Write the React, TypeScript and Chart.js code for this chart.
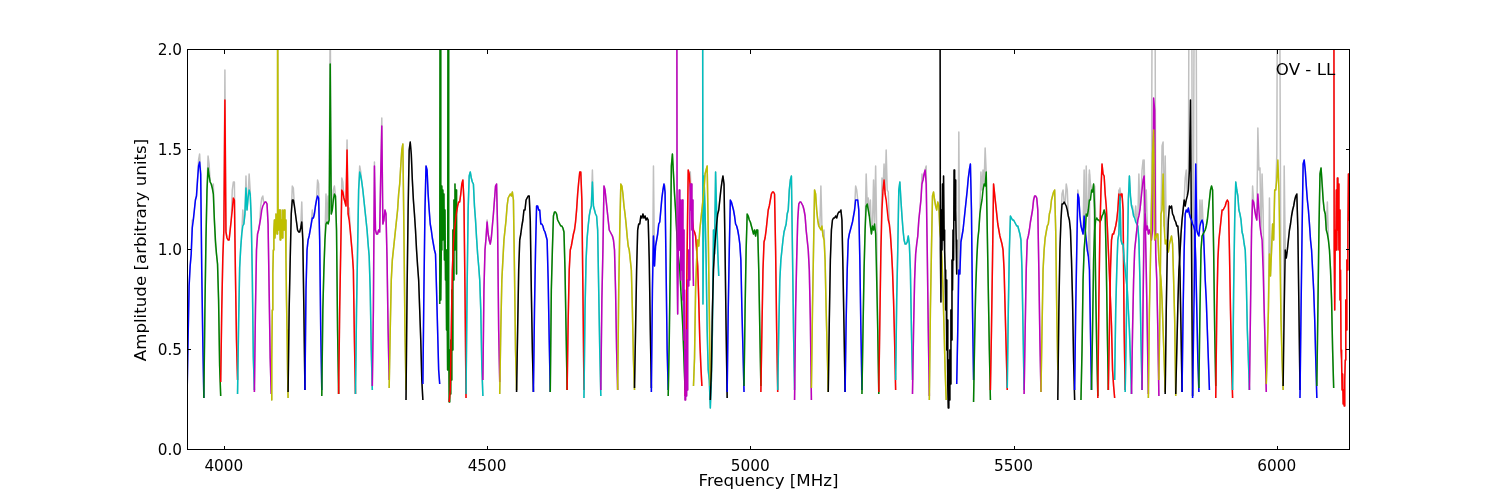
import { useEffect, useRef } from "react"
import { Chart, registerables } from "chart.js"

Chart.register(...registerables)

const FONT = "'DejaVu Sans'"
const SUBBAND_MHZ = 32

const colorCycle = ["#0000ff", "#008000", "#ff0000", "#00bfbf", "#bf00bf", "#bfbf00", "#000000"]
const rawColor = "#c0c0c0"
const xTicks = [4000, 4500, 5000, 5500, 6000]
const yTicks = [0, 0.5, 1, 1.5, 2]

// first frequency of each baseband, they overlap a bit
const bandStarts = [3930, 4428, 4860, 5360, 5628]

// one row per subband; noisy subbands have twice the channels
const band1 = [
  [0.25, 0.55, 0.82, 0.92, 0.98, 1.11, 1.15, 1.2, 1.25, 1.27, 1.35, 1.42, 1.44, 1.38, 0.9, 0.55, 0.26],
  [0.26, 0.7, 1.05, 1.3, 1.41, 1.37, 1.34, 1.33, 1.31, 1.28, 1.15, 1.05, 0.98, 0.93, 0.75, 0.42, 0.27],
  [0.34, 0.7, 0.96, 1.1, 1.75, 1.09, 1.06, 1.05, 1.05, 1.1, 1.15, 1.2, 1.26, 1.25, 0.88, 0.55, 0.35],
  [0.28, 0.63, 0.91, 1.01, 1.08, 1.12, 1.13, 1.18, 1.31, 1.2, 1.26, 1.3, 1.28, 1.16, 0.88, 0.46, 0.3],
  [0.29, 0.7, 1.0, 1.08, 1.1, 1.13, 1.16, 1.2, 1.22, 1.23, 1.24, 1.24, 1.23, 1.13, 0.8, 0.46, 0.28],
  [0.25, 0.45, 0.7, 0.88, 1.0, 1.1, 1.15, 1.06, 1.1, 1.18, 1.15, 1.08, 3.0, 1.18, 1.1, 1.2, 1.18, 1.05, 1.2, 1.08, 1.15, 1.06, 1.2, 1.1, 1.14, 1.2, 1.1, 1.15, 0.95, 0.75, 0.6, 0.4, 0.26],
  [0.29, 0.7, 0.95, 1.18, 1.25, 1.25, 1.22, 1.18, 1.14, 1.1, 1.09, 1.09, 1.11, 1.14, 1.05, 0.7, 0.3],
  [0.3, 0.8, 1.0, 1.05, 1.07, 1.1, 1.13, 1.16, 1.16, 1.18, 1.22, 1.25, 1.27, 1.26, 1.05, 0.6, 0.3],
  [0.27, 0.7, 0.9, 1.05, 1.13, 1.14, 1.13, 1.15, 1.93, 1.18, 1.2, 1.25, 1.28, 1.27, 1.1, 0.6, 0.28],
  [0.28, 0.7, 1.0, 1.3, 1.29, 1.26, 1.24, 1.22, 1.5, 1.18, 1.15, 1.1, 1.04, 0.98, 0.9, 0.55, 0.28],
  [0.28, 0.7, 1.0, 1.3, 1.39, 1.37, 1.34, 1.3, 1.25, 1.2, 1.15, 1.1, 1.03, 0.97, 0.8, 0.5, 0.3],
  [0.32, 0.7, 1.42, 1.1, 1.08, 1.08, 1.1, 1.09, 1.38, 1.62, 1.13, 1.15, 1.2, 1.18, 0.95, 0.6, 0.35],
  [0.31, 0.6, 0.85, 0.95, 1.0, 1.05, 1.1, 1.15, 1.2, 1.28, 1.33, 1.42, 1.5, 1.53, 1.1, 0.6, 0.3],
  [0.25, 0.8, 1.2, 1.5, 1.54, 1.48, 1.35, 1.25, 1.18, 1.1, 1.0, 0.92, 0.85, 0.7, 0.55, 0.35, 0.25],
  [0.33, 0.8, 1.2, 1.42, 1.4, 1.28, 1.2, 1.13, 1.1, 1.06, 1.03, 1.0, 0.98, 0.8, 0.6, 0.4, 0.33],
  [0.73, 3.0, 0.75, 1.0, 1.32, 1.05, 1.3, 1.1, 1.28, 0.95, 1.2, 0.85, 1.0, 0.6, 0.8, 0.4, 3.0, 0.6, 0.24, 0.5, 0.28, 0.55, 0.35, 0.8, 0.5, 1.1, 0.85, 1.25, 1.0, 1.33, 1.05, 1.3, 0.88],
]

const band2 = [
  [0.24, 0.3, 0.6, 0.9, 1.03, 1.1, 1.15, 1.19, 1.22, 1.24, 1.24, 1.28, 1.33, 1.35, 1.25, 0.8, 0.26],
  [0.28, 0.8, 1.2, 1.37, 1.39, 1.36, 1.34, 1.33, 1.22, 1.15, 1.06, 0.98, 0.92, 0.85, 0.7, 0.42, 0.27],
  [0.35, 0.8, 1.0, 1.06, 1.14, 1.08, 1.05, 1.03, 1.06, 1.12, 1.18, 1.25, 1.32, 1.33, 1.1, 0.6, 0.34],
  [0.28, 0.6, 0.85, 0.95, 1.05, 1.1, 1.15, 1.22, 1.26, 1.27, 1.28, 1.27, 1.29, 1.25, 0.9, 0.5, 0.3],
  [0.29, 0.6, 0.9, 1.05, 1.08, 1.12, 1.15, 1.2, 1.2, 1.25, 1.26, 1.27, 1.27, 1.15, 0.8, 0.5, 0.29],
  [0.29, 0.7, 1.0, 1.22, 1.22, 1.2, 1.2, 1.13, 1.13, 1.12, 1.1, 1.09, 1.07, 1.05, 0.85, 0.55, 0.29],
  [0.29, 0.8, 1.0, 1.17, 1.19, 1.19, 1.18, 1.15, 1.14, 1.13, 1.12, 1.12, 1.11, 1.09, 0.9, 0.6, 0.3],
  [0.3, 0.65, 0.9, 1.0, 1.02, 1.05, 1.08, 1.1, 1.14, 1.2, 1.28, 1.34, 1.39, 1.39, 1.25, 0.8, 0.3],
  [0.26, 0.7, 0.95, 1.06, 1.12, 1.17, 1.2, 1.22, 1.34, 1.22, 1.2, 1.18, 1.17, 1.1, 0.8, 0.5, 0.27],
  [0.3, 0.75, 1.0, 1.32, 1.3, 1.25, 1.2, 1.15, 1.1, 1.09, 1.08, 1.07, 1.05, 1.0, 0.8, 0.5, 0.3],
  [0.3, 0.8, 1.1, 1.33, 1.32, 1.28, 1.22, 1.18, 1.13, 1.07, 1.02, 1.0, 0.95, 0.9, 0.7, 0.45, 0.3],
  [0.31, 0.6, 0.9, 1.1, 1.13, 1.13, 1.17, 1.16, 1.18, 1.16, 1.17, 1.15, 1.16, 1.15, 0.95, 0.6, 0.31],
  [0.29, 0.8, 1.07, 0.92, 1.02, 1.05, 1.08, 1.13, 1.14, 1.2, 1.26, 1.3, 1.33, 1.29, 0.9, 0.5, 0.3],
  [0.27, 0.55, 0.95, 1.42, 1.48, 1.38, 1.28, 1.2, 1.1, 1.0, 0.95, 0.9, 0.8, 0.7, 0.6, 0.45, 0.3],
  [0.27, 0.5, 1.0, 1.4, 1.38, 1.3, 1.22, 1.15, 1.1, 1.09, 1.07, 1.0, 0.92, 0.75, 0.55, 0.42, 0.32],
  [6.0, 0.73, 1.37, 1.2, 0.95, 0.6, 0.4, 0.35, 0.21, 0.35, 0.6, 1.1, 0.98, 1.39, 1.18, 1.0, 0.87],
]

const band3 = [
  [3.0, 0.9, 0.68, 1.0, 1.15, 1.3, 1.0, 1.25, 0.85, 1.2, 0.9, 1.25, 0.75, 1.1, 0.55, 0.8, 0.25, 0.5, 0.27, 0.6, 0.3, 0.85, 0.82, 1.0, 0.85, 1.15, 1.33, 1.2, 1.33, 1.1, 1.25, 0.95, 0.82],
  [0.32, 0.46, 0.8, 0.95, 1.05, 1.02, 1.1, 1.15, 1.2, 1.25, 1.3, 1.38, 1.4, 1.42, 1.1, 0.7, 0.32],
  [0.25, 0.4, 0.7, 0.9, 1.0, 1.07, 1.13, 1.18, 1.2, 1.25, 1.3, 1.34, 1.37, 1.33, 1.0, 0.6, 0.26],
  [0.29, 0.7, 1.0, 1.25, 1.24, 1.22, 1.2, 1.17, 1.13, 1.12, 1.1, 1.07, 1.03, 0.95, 0.7, 0.5, 0.29],
  [0.32, 0.7, 1.0, 1.18, 1.17, 1.15, 1.14, 1.12, 1.1, 1.08, 1.1, 1.07, 1.1, 1.1, 0.9, 0.6, 0.32],
  [0.29, 0.6, 0.9, 1.04, 1.06, 1.1, 1.15, 1.2, 1.22, 1.25, 1.28, 1.29, 1.29, 1.28, 1.0, 0.6, 0.29],
  [0.3, 0.6, 0.85, 0.95, 1.0, 1.05, 1.09, 1.11, 1.13, 1.18, 1.2, 1.3, 1.35, 1.37, 1.0, 0.6, 0.3],
  [0.25, 0.7, 0.95, 1.15, 1.23, 1.24, 1.24, 1.23, 1.22, 1.2, 1.17, 1.1, 1.05, 1.0, 0.9, 0.65, 0.25],
  [0.31, 0.7, 1.0, 1.3, 1.28, 1.2, 1.15, 1.12, 1.11, 1.1, 1.12, 1.07, 1.05, 0.95, 0.7, 0.5, 0.29],
  [0.29, 0.65, 0.95, 1.1, 1.15, 1.16, 1.16, 1.17, 1.16, 1.18, 1.19, 1.19, 1.2, 1.15, 0.9, 0.6, 0.29],
  [0.29, 0.65, 0.9, 1.05, 1.08, 1.1, 1.12, 1.14, 1.17, 1.2, 1.25, 1.25, 1.25, 1.2, 0.95, 0.6, 0.3],
  [0.28, 0.6, 0.9, 1.1, 1.22, 1.23, 1.2, 1.17, 1.12, 1.08, 1.12, 1.1, 1.13, 1.08, 0.85, 0.6, 0.28],
  [0.29, 0.65, 1.0, 1.2, 1.3, 1.35, 1.28, 1.25, 1.2, 1.15, 1.13, 1.08, 1.0, 0.9, 0.75, 0.55, 0.3],
  [0.35, 0.75, 1.0, 1.3, 1.34, 1.25, 1.17, 1.1, 1.05, 1.03, 1.03, 1.04, 1.07, 1.03, 0.9, 0.6, 0.35],
  [0.28, 0.6, 0.85, 0.98, 1.03, 1.07, 1.15, 1.2, 1.25, 1.33, 1.35, 1.38, 1.4, 1.33, 1.0, 0.6, 0.27],
  [0.25, 0.7, 1.0, 1.27, 1.29, 1.25, 1.22, 1.2, 1.24, 1.22, 1.1, 1.05, 0.95, 0.8, 0.6, 0.4, 0.25],
]

const band4 = [
  [3.0, 1.0, 0.74, 1.2, 1.0, 1.33, 1.05, 1.37, 1.1, 1.0, 0.9, 0.7, 0.85, 0.5, 0.65, 0.32, 0.21, 0.45, 0.25, 0.5, 0.33, 0.7, 0.55, 0.95, 0.8, 1.1, 0.95, 1.4, 1.15, 1.35, 1.2, 1.05, 0.88],
  [0.33, 0.6, 0.9, 0.88, 1.04, 1.07, 1.1, 1.15, 1.2, 1.25, 1.3, 1.36, 1.4, 1.43, 1.2, 0.7, 0.35],
  [0.24, 0.55, 0.8, 0.95, 1.05, 1.1, 1.18, 1.22, 1.25, 1.3, 1.33, 1.32, 1.39, 1.1, 0.8, 0.5, 0.25],
  [0.3, 0.6, 0.95, 1.33, 1.28, 1.23, 1.18, 1.13, 1.1, 1.07, 1.05, 1.03, 1.0, 0.9, 0.7, 0.5, 0.3],
  [0.31, 0.7, 1.0, 1.17, 1.16, 1.15, 1.15, 1.14, 1.13, 1.12, 1.12, 1.1, 1.08, 1.05, 0.9, 0.6, 0.3],
  [0.28, 0.6, 0.9, 1.05, 1.07, 1.1, 1.14, 1.17, 1.2, 1.25, 1.27, 1.27, 1.26, 1.2, 0.9, 0.55, 0.29],
  [0.29, 0.6, 0.9, 1.0, 1.06, 1.09, 1.12, 1.13, 1.18, 1.2, 1.25, 1.27, 1.29, 1.3, 1.1, 0.7, 0.4],
  [0.25, 0.7, 1.0, 1.15, 1.23, 1.23, 1.24, 1.23, 1.22, 1.2, 1.17, 1.15, 1.1, 0.95, 0.75, 0.45, 0.25],
  [0.3, 0.7, 1.0, 1.28, 1.26, 1.17, 1.12, 1.1, 1.08, 1.17, 1.1, 1.05, 1.0, 0.97, 0.9, 0.6, 0.3],
  [0.3, 0.6, 0.95, 1.1, 1.15, 1.16, 1.15, 1.15, 1.14, 1.15, 1.17, 1.18, 1.2, 1.18, 0.95, 0.6, 0.3],
  [0.3, 0.6, 0.9, 1.05, 1.08, 1.08, 1.1, 1.12, 1.15, 1.2, 1.28, 1.25, 1.28, 1.28, 1.2, 0.6, 0.3],
  [0.29, 0.6, 0.95, 1.25, 1.37, 1.27, 1.22, 1.2, 1.17, 1.16, 1.14, 1.13, 1.12, 1.05, 0.85, 0.55, 0.3],
  [0.3, 0.75, 1.1, 1.18, 1.1, 1.12, 1.08, 1.1, 1.08, 1.05, 1.1, 1.76, 1.7, 0.98, 0.85, 0.6, 0.27],
  [0.35, 0.7, 1.18, 1.2, 1.38, 1.12, 1.03, 1.05, 1.0, 0.99, 1.03, 1.05, 1.07, 1.03, 0.85, 0.65, 0.27],
  [0.28, 0.5, 0.72, 0.9, 0.98, 1.08, 1.15, 1.2, 1.25, 1.22, 1.25, 1.27, 1.3, 1.4, 1.75, 1.0, 0.27],
  [0.26, 0.6, 0.95, 1.43, 1.1, 1.08, 1.07, 1.12, 1.14, 1.15, 1.13, 1.0, 0.85, 0.75, 0.6, 0.45, 0.3],
]

const band5 = [
  [0.25, 0.5, 0.85, 1.0, 1.07, 1.18, 1.17, 1.2, 1.25, 1.25, 1.3, 1.29, 1.33, 1.2, 0.8, 0.5, 0.27],
  [0.26, 0.75, 1.1, 1.3, 1.43, 1.38, 1.37, 1.28, 1.22, 1.12, 1.0, 0.88, 0.75, 0.62, 0.4, 0.32, 0.26],
  [0.35, 0.7, 0.9, 1.05, 1.08, 1.27, 1.05, 1.03, 1.03, 0.95, 0.9, 0.85, 0.8, 0.7, 0.6, 0.45, 0.28],
  [0.28, 0.6, 0.85, 1.0, 1.05, 1.1, 1.15, 1.17, 1.2, 1.25, 1.3, 1.35, 1.37, 1.15, 0.9, 0.6, 0.28],
  [0.26, 0.7, 0.95, 1.2, 1.48, 1.6, 1.05, 1.06, 1.08, 1.08, 0.95, 0.9, 0.85, 0.75, 0.6, 0.45, 0.29],
  [0.28, 0.7, 1.0, 1.15, 1.22, 1.21, 1.22, 1.18, 1.17, 1.15, 1.14, 1.12, 1.12, 1.05, 0.9, 0.6, 0.29],
  [0.29, 0.7, 1.0, 1.18, 1.2, 1.19, 1.21, 1.18, 1.16, 1.15, 1.13, 1.12, 1.1, 0.95, 0.7, 0.45, 0.29],
  [0.31, 0.7, 1.0, 1.07, 1.08, 1.09, 1.1, 1.12, 1.15, 1.2, 1.25, 1.3, 1.32, 1.3, 1.0, 0.6, 0.32],
  [0.26, 0.7, 0.95, 1.05, 1.1, 1.15, 1.2, 1.2, 1.21, 1.22, 1.24, 1.25, 1.24, 1.0, 0.7, 0.45, 0.26],
  [0.3, 0.8, 1.15, 1.34, 1.3, 1.27, 1.2, 1.18, 1.15, 1.09, 1.07, 1.03, 1.0, 0.85, 0.6, 0.45, 0.3],
  [0.3, 0.7, 1.1, 1.25, 1.24, 1.2, 1.17, 1.15, 1.28, 1.2, 1.12, 1.08, 1.05, 0.9, 0.7, 0.5, 0.29],
  [0.33, 0.5, 0.7, 0.98, 0.87, 1.0, 1.13, 1.05, 1.3, 1.3, 1.35, 1.45, 1.3, 0.95, 0.65, 0.45, 0.3],
  [0.32, 0.7, 1.0, 0.96, 1.0, 1.05, 1.1, 1.13, 1.17, 1.2, 1.22, 1.25, 1.27, 1.28, 1.1, 0.7, 0.3],
  [0.26, 0.7, 1.1, 1.43, 1.45, 1.4, 1.32, 1.25, 1.2, 1.13, 1.05, 1.0, 0.9, 0.8, 0.65, 0.45, 0.26],
  [0.32, 0.7, 1.1, 1.38, 1.41, 1.33, 1.25, 1.2, 1.18, 1.1, 1.08, 1.05, 1.0, 0.9, 0.75, 0.5, 0.31],
  [3.0, 1.0, 0.7, 1.1, 1.0, 1.3, 1.0, 1.36, 1.1, 1.33, 1.0, 1.2, 0.75, 0.9, 0.5, 0.45, 0.3, 0.38, 0.23, 0.3, 0.22, 0.35, 0.45, 0.75, 0.6, 0.95, 0.9, 1.1, 1.38, 1.15, 1.36, 0.95, 1.25],
]

const bands = [band1, band2, band3, band4, band5]

// unflagged (grey) channels that stick out above the kept data: subband start, channel, amplitude
const rawPeaks = [
  [3930, 5, 1.15], [3930, 11, 1.45], [3930, 12, 1.48],
  [3962, 4, 1.47], [3962, 5, 1.43], [3962, 9, 1.33], [3962, 11, 1.02],
  [3994, 4, 1.9], [3994, 11, 1.3], [3994, 12, 1.34], [3994, 13, 1.34],
  [4026, 5, 1.2], [4026, 8, 1.37], [4026, 11, 1.38], [4026, 12, 1.3],
  [4058, 6, 1.22], [4058, 7, 1.26], [4058, 8, 1.27],
  [4122, 4, 1.32], [4122, 5, 1.31], [4122, 13, 1.24],
  [4154, 7, 1.2], [4154, 12, 1.35], [4154, 13, 1.33],
  [4186, 4, 1.28], [4186, 6, 1.27], [4186, 8, 2.2], [4186, 11, 1.3], [4186, 12, 1.32],
  [4218, 3, 1.36], [4218, 4, 1.34], [4218, 8, 1.55], [4218, 10, 1.21],
  [4250, 4, 1.42], [4250, 5, 1.39],
  [4282, 2, 1.44], [4282, 8, 1.4], [4282, 9, 1.66],
  [4492, 4, 1.15], [4684, 8, 1.4],
  [4812, 2, 1.42], [4812, 13, 1.32],
  [4844, 13, 1.15], [4876, 5, 1.39],
  [5116, 9, 1.32], [5116, 12, 1.1],
  [5180, 10, 1.32], [5180, 11, 1.3],
  [5212, 4, 1.38], [5212, 6, 1.26], [5212, 8, 1.25], [5212, 11, 1.35], [5212, 13, 1.42], [5212, 14, 1.1],
  [5244, 3, 1.36], [5244, 5, 1.43], [5244, 7, 1.5], [5244, 8, 1.3], [5244, 9, 1.29],
  [5308, 9, 1.38], [5308, 13, 1.42],
  [5392, 2, 1.59],
  [5424, 7, 1.39], [5424, 8, 1.3], [5424, 9, 1.4], [5424, 11, 1.51],
  [5584, 4, 1.28], [5584, 5, 1.3], [5584, 8, 1.33], [5584, 9, 1.3],
  [5616, 3, 1.3], [5616, 9, 1.4], [5616, 14, 1.38],
  [5628, 5, 1.42], [5628, 8, 1.4], [5628, 9, 1.33],
  [5648, 3, 1.32], [5680, 10, 1.3], [5680, 11, 1.3],
  [5692, 5, 1.31], [5712, 7, 1.22], [5712, 10, 1.22],
  [5724, 7, 1.38], [5724, 10, 1.4], [5724, 11, 1.45],
  [5744, 2, 1.45], [5744, 4, 1.3], [5744, 9, 1.3], [5744, 10, 3.0], [5744, 11, 3.0], [5744, 12, 3.0],
  [5776, 3, 1.52], [5776, 4, 1.54], [5776, 6, 1.47], [5776, 7, 1.1],
  [5808, 9, 1.36], [5808, 10, 1.4], [5808, 13, 3.0], [5808, 14, 3.0], [5808, 15, 3.0],
  [5840, 1, 1.5], [5840, 2, 3.0], [5840, 3, 3.0], [5840, 7, 1.25], [5840, 9, 1.25],
  [5948, 3, 1.32], [5948, 8, 1.61], [5948, 9, 1.4], [5948, 10, 1.41], [5948, 12, 1.38], [5948, 13, 1.2],
  [5980, 3, 1.26], [5980, 10, 1.48], [5980, 11, 3.0], [5980, 12, 3.0], [5980, 13, 1.95],
  [6012, 1, 1.42],
  [6076, 5, 1.35], [6076, 10, 1.24],
]

// frame and inward ticks on all four sides, y labels and the corner label
const framePlugin = {
  id: "frame",
  afterDraw(chart: any) {
    const { ctx, chartArea: a, scales } = chart
    ctx.save()
    ctx.strokeStyle = "#000"
    ctx.lineWidth = 1
    ctx.strokeRect(a.left + 0.5, a.top - 0.5, a.right - a.left - 1, a.bottom - a.top)
    ctx.beginPath()
    for (const v of xTicks) {
      const x = Math.round(scales.x.getPixelForValue(v)) + 0.5
      ctx.moveTo(x, a.bottom)
      ctx.lineTo(x, a.bottom - 4)
      ctx.moveTo(x, a.top)
      ctx.lineTo(x, a.top + 4)
    }
    for (const v of yTicks) {
      const y = Math.round(scales.y.getPixelForValue(v)) - 0.5
      ctx.moveTo(a.left, y)
      ctx.lineTo(a.left + 4, y)
      ctx.moveTo(a.right, y)
      ctx.lineTo(a.right - 4, y)
    }
    ctx.stroke()
    ctx.fillStyle = "#000"
    ctx.font = `15.3px ${FONT}`
    ctx.textAlign = "right"
    ctx.textBaseline = "middle"
    for (const v of yTicks) {
      ctx.fillText(v.toFixed(1), a.left - 5, scales.y.getPixelForValue(v) + 1)
    }
    ctx.font = `16.67px ${FONT}`
    ctx.textAlign = "left"
    ctx.textBaseline = "alphabetic"
    ctx.fillText("OV - LL", scales.x.getPixelForValue(6000) - 1, scales.y.getPixelForValue(1.875))
    ctx.restore()
  },
}

function buildDatasets() {
  const raw: any[] = []
  const kept: any[] = []
  let n = 0
  bands.forEach((band, b) => {
    band.forEach((values, s) => {
      const start = bandStarts[b] + s * SUBBAND_MHZ
      const step = SUBBAND_MHZ / (values.length - 1)
      const rawValues = [...values]
      for (const [f, ch, amp] of rawPeaks) {
        if (f === start) rawValues[ch] = amp
      }
      const toPoints = (vals: number[]) => vals.map((y, ch) => ({ x: start + ch * step, y }))
      raw.push({ data: toPoints(rawValues), borderColor: rawColor, order: 1000 })
      kept.push({ data: toPoints(values), borderColor: colorCycle[n % 7], order: 500 - n })
      n++
    })
  })
  return [...raw, ...kept].map((d) => ({
    ...d,
    borderWidth: 1.5,
    pointRadius: 0,
    tension: 0,
    clip: 0,
    borderJoinStyle: "round",
  }))
}

export default function App() {
  const chartRef = useRef<HTMLCanvasElement>(null)

  useEffect(() => {
    if (!chartRef.current) return
    const chart = new Chart(chartRef.current, {
      type: "line",
      data: { datasets: buildDatasets() as any },
      plugins: [framePlugin],
      options: {
        animation: false,
        responsive: false,
        devicePixelRatio: 1,
        layout: { padding: { top: 50, right: 150, left: 0, bottom: 0 } },
        plugins: { legend: { display: false }, tooltip: { enabled: false } },
        scales: {
          x: {
            type: "linear",
            min: 3930,
            max: 6139,
            grid: { display: false, drawTicks: false },
            border: { display: false },
            afterBuildTicks: (scale: any) => {
              scale.ticks = xTicks.map((value) => ({ value }))
            },
            afterFit: (scale: any) => {
              scale.height = 50
            },
            ticks: {
              autoSkip: false,
              maxRotation: 0,
              padding: 8,
              color: "#000",
              font: { family: FONT, size: 15.3 },
              callback: (v: any) => String(v),
            },
            title: {
              display: true,
              text: "Frequency [MHz]",
              color: "#000",
              font: { family: FONT, size: 16.67 },
              padding: { top: 0, bottom: 8 },
            },
          },
          y: {
            min: 0,
            max: 2,
            grid: { display: false, drawTicks: false },
            border: { display: false },
            afterBuildTicks: (scale: any) => {
              scale.ticks = yTicks.map((value) => ({ value }))
            },
            afterFit: (scale: any) => {
              scale.width = 187
            },
            ticks: { display: false },
            title: {
              display: true,
              text: "Amplitude [arbitrary units]",
              color: "#000",
              font: { family: FONT, size: 16.67 },
              padding: { top: 132, bottom: 0 },
            },
          },
        },
      },
    })
    return () => chart.destroy()
  }, [])

  return (
    <div style={{ position: "absolute", left: 0, top: 0, width: 1500, height: 500, background: "#fff" }}>
      <canvas ref={chartRef} width={1500} height={500} style={{ display: "block" }} />
    </div>
  )
}
